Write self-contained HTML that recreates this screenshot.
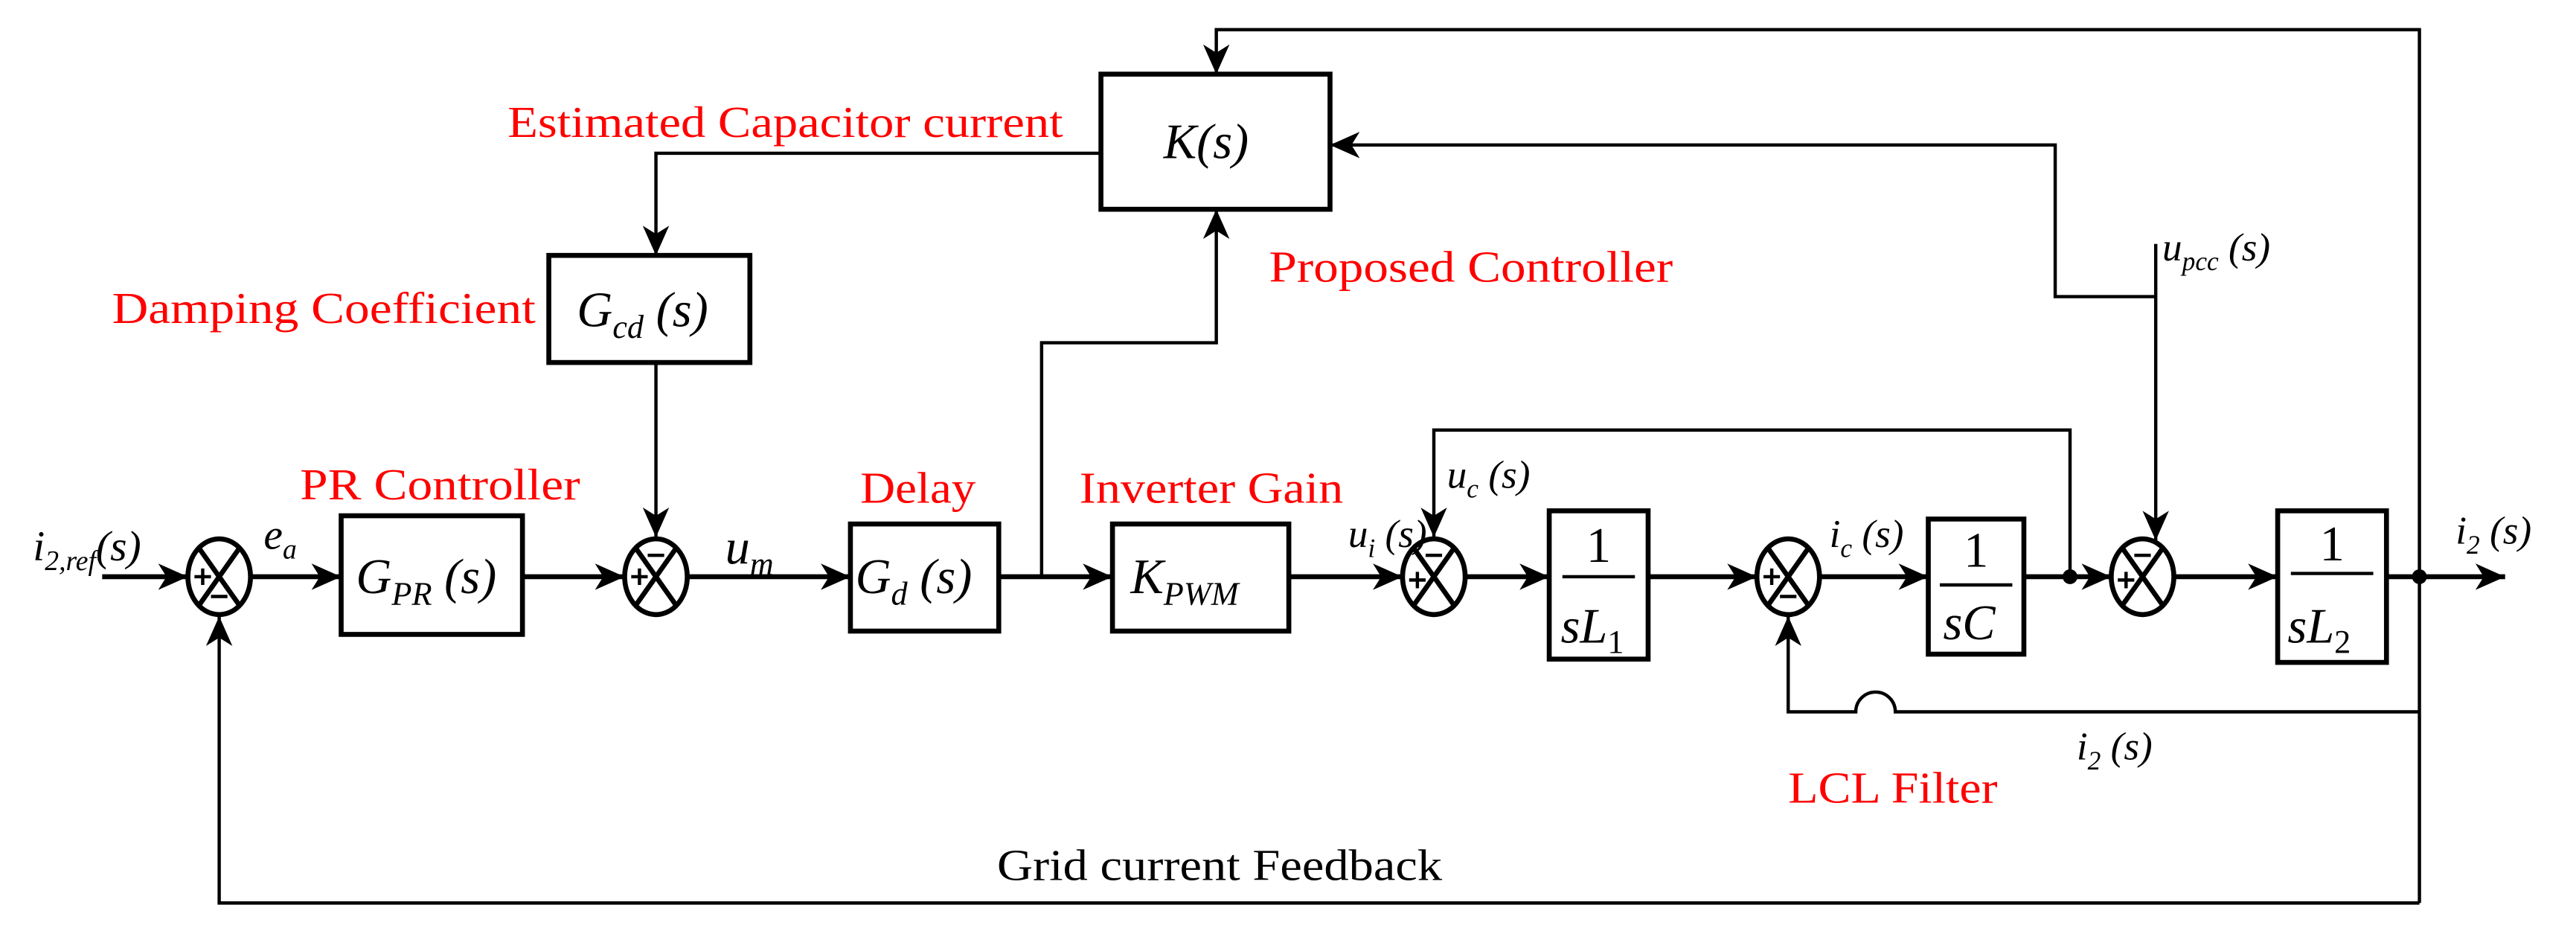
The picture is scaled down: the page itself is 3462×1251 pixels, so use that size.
<!DOCTYPE html>
<html><head><meta charset="utf-8"><style>
html,body{margin:0;padding:0;background:#fff}
svg{display:block}
svg text{font-family:"Liberation Serif","Times New Roman",serif}
.r{fill:#f00;font-size:27px}
.k{fill:#000;font-size:27px}
.i{font-style:italic}
</style></head><body>
<svg width="3462" height="1251" viewBox="0 0 1563 565" preserveAspectRatio="none" xmlns="http://www.w3.org/2000/svg" font-family="Liberation Serif, serif">
<defs>
<marker id="a" markerUnits="userSpaceOnUse" markerWidth="20" markerHeight="16" refX="18" refY="8" orient="auto"><path d="M0,0 L18,8 L0,16 L5,8 Z" fill="#000"/></marker>
</defs>
<g fill="none" stroke="#000" stroke-width="2">
<polyline points="1468,548 1468,18 738,18 738,45" marker-end="url(#a)"/>
<polyline points="1308,180 1247,180 1247,88 807,88" marker-end="url(#a)"/>
<line x1="1308" y1="148" x2="1308" y2="328" marker-end="url(#a)"/>
<polyline points="668,93 398,93 398,155" marker-end="url(#a)"/>
<line x1="398" y1="220" x2="398" y2="326" marker-end="url(#a)"/>
<polyline points="632,350 632,208 738,208 738,127" marker-end="url(#a)"/>
<polyline points="1468,548 133,548 133,374" marker-end="url(#a)"/>
<polyline points="1256,350 1256,261 870,261 870,326" marker-end="url(#a)"/>
<path d="M1468,432 L1150,432 A12,12 0 0 0 1126,432 L1085,432 L1085,374" marker-end="url(#a)"/>
</g>
<g fill="none" stroke="#000" stroke-width="3">
<line x1="62" y1="350" x2="114" y2="350" marker-end="url(#a)"/>
<line x1="152" y1="350" x2="207" y2="350" marker-end="url(#a)"/>
<line x1="317" y1="350" x2="379" y2="350" marker-end="url(#a)"/>
<line x1="417" y1="350" x2="516" y2="350" marker-end="url(#a)"/>
<line x1="606" y1="350" x2="675" y2="350" marker-end="url(#a)"/>
<line x1="782" y1="350" x2="851" y2="350" marker-end="url(#a)"/>
<line x1="889" y1="350" x2="940" y2="350" marker-end="url(#a)"/>
<line x1="1000" y1="350" x2="1066" y2="350" marker-end="url(#a)"/>
<line x1="1104" y1="350" x2="1170" y2="350" marker-end="url(#a)"/>
<line x1="1228" y1="350" x2="1281" y2="350" marker-end="url(#a)"/>
<line x1="1319" y1="350" x2="1382" y2="350" marker-end="url(#a)"/>
<line x1="1448" y1="350" x2="1520" y2="350" marker-end="url(#a)"/>
<rect x="668" y="45" width="139" height="82"/>
<rect x="333" y="155" width="122" height="65"/>
<rect x="207" y="313" width="110" height="72"/>
<rect x="516" y="318" width="90" height="65"/>
<rect x="675" y="318" width="107" height="65"/>
<rect x="940" y="310" width="60" height="90"/>
<rect x="1170" y="315" width="58" height="82"/>
<rect x="1382" y="310" width="66" height="92"/>
<line x1="948" y1="350" x2="992" y2="350" stroke-width="2"/>
<line x1="1177" y1="355" x2="1221" y2="355" stroke-width="2"/>
<line x1="1390" y1="348" x2="1440" y2="348" stroke-width="2"/>
</g>
<circle cx="1256" cy="350" r="4.5"/>
<circle cx="1468" cy="350" r="4.5"/>
<g fill="none" stroke="#000" stroke-width="3">
<g transform="translate(133,350)"><ellipse rx="19" ry="23"/><path d="M-12,-17 L12,17 M12,-17 L-12,17"/></g>
<g transform="translate(398,350)"><ellipse rx="19" ry="23"/><path d="M-12,-17 L12,17 M12,-17 L-12,17"/></g>
<g transform="translate(870,350)"><ellipse rx="19" ry="23"/><path d="M-12,-17 L12,17 M12,-17 L-12,17"/></g>
<g transform="translate(1085,350)"><ellipse rx="19" ry="23"/><path d="M-12,-17 L12,17 M12,-17 L-12,17"/></g>
<g transform="translate(1300,350)"><ellipse rx="19" ry="23"/><path d="M-12,-17 L12,17 M12,-17 L-12,17"/></g>
</g>
<g stroke="#000" stroke-width="2">
<path d="M118,350 h10 M123,345 v10 M128,362 h10"/>
<path d="M383,350 h10 M388,345 v10 M393,337 h10"/>
<path d="M855,352 h10 M860,347 v10 M865,337 h10"/>
<path d="M1070,350 h10 M1075,345 v10 M1080,362 h10"/>
<path d="M1285,352 h10 M1290,347 v10 M1295,337 h10"/>
</g>
<text class="r" x="308" y="83" textLength="337" lengthAdjust="spacingAndGlyphs">Estimated Capacitor current</text>
<text class="r" x="68" y="196" textLength="257" lengthAdjust="spacingAndGlyphs">Damping Coefficient</text>
<text class="r" x="770" y="171" textLength="245" lengthAdjust="spacingAndGlyphs">Proposed Controller</text>
<text class="r" x="182" y="303" textLength="170" lengthAdjust="spacingAndGlyphs">PR Controller</text>
<text class="r" x="522" y="305" textLength="70" lengthAdjust="spacingAndGlyphs">Delay</text>
<text class="r" x="655" y="305" textLength="160" lengthAdjust="spacingAndGlyphs">Inverter Gain</text>
<text class="r" x="1085" y="487" textLength="127" lengthAdjust="spacingAndGlyphs">LCL Filter</text>
<text class="k" x="605" y="534" textLength="270" lengthAdjust="spacingAndGlyphs">Grid current Feedback</text>
<g class="k i">
<text x="706" y="96" font-size="30">K(s)</text>
<text x="350" y="198" font-size="30">G<tspan font-size="20" dy="7">cd</tspan><tspan dy="-7"> (s)</tspan></text>
<text x="216" y="360" font-size="30">G<tspan font-size="20" dy="7">PR</tspan><tspan dy="-7"> (s)</tspan></text>
<text x="519" y="360" font-size="30">G<tspan font-size="20" dy="7">d</tspan><tspan dy="-7"> (s)</tspan></text>
<text x="686" y="360" font-size="30">K<tspan font-size="20" dy="7">PWM</tspan></text>
<text x="20" y="340" font-size="26">i<tspan font-size="17" dy="6">2,ref</tspan><tspan dy="-6">(s)</tspan></text>
<text x="160" y="333" font-size="26">e<tspan font-size="17" dy="6">a</tspan></text>
<text x="440" y="342" font-size="30">u<tspan font-size="20" dy="7">m</tspan></text>
<text x="818" y="332" font-size="24">u<tspan font-size="16" dy="6">i</tspan><tspan dy="-6"> (s)</tspan></text>
<text x="878" y="296" font-size="24">u<tspan font-size="16" dy="6">c</tspan><tspan dy="-6"> (s)</tspan></text>
<text x="1110" y="332" font-size="24">i<tspan font-size="16" dy="6">c</tspan><tspan dy="-6"> (s)</tspan></text>
<text x="1312" y="158" font-size="24">u<tspan font-size="16" dy="6">pcc</tspan><tspan dy="-6"> (s)</tspan></text>
<text x="1490" y="330" font-size="24">i<tspan font-size="16" dy="6">2</tspan><tspan dy="-6"> (s)</tspan></text>
<text x="1260" y="461" font-size="24">i<tspan font-size="16" dy="6">2</tspan><tspan dy="-6"> (s)</tspan></text>
<text x="970" y="341" font-size="30" font-style="normal" text-anchor="middle">1</text>
<text x="947" y="390" font-size="30">sL<tspan font-size="20" dy="6" font-style="normal">1</tspan></text>
<text x="1199" y="344" font-size="30" font-style="normal" text-anchor="middle">1</text>
<text x="1179" y="388" font-size="30">sC</text>
<text x="1415" y="340" font-size="30" font-style="normal" text-anchor="middle">1</text>
<text x="1388" y="390" font-size="30">sL<tspan font-size="20" dy="6" font-style="normal">2</tspan></text>
</g>
</svg>
</body></html>
